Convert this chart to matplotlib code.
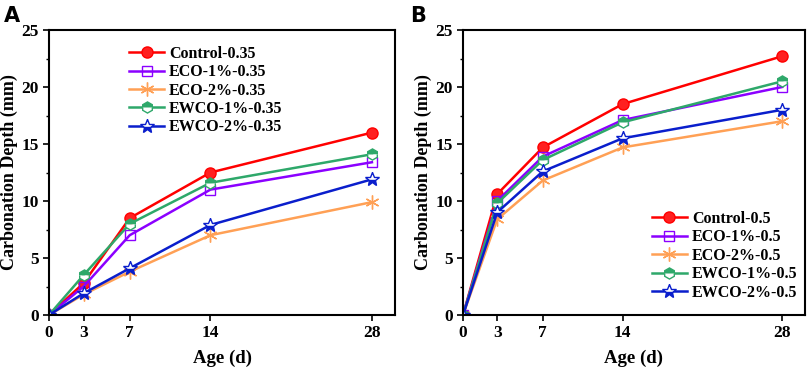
import matplotlib
matplotlib.use("Agg")
import matplotlib.pyplot as plt
from matplotlib.ticker import MultipleLocator

ages = [0, 3, 7, 14, 28]
labels_a = ["Control-0.35", "ECO-1%-0.35", "ECO-2%-0.35", "EWCO-1%-0.35", "EWCO-2%-0.35"]
labels_b = ["Control-0.5", "ECO-1%-0.5", "ECO-2%-0.5", "EWCO-1%-0.5", "EWCO-2%-0.5"]

control_a = [0, 2.8, 8.5, 12.5, 16.0]
eco1_a = [0, 2.5, 7.0, 11.0, 13.4]
eco2_a = [0, 1.8, 3.8, 7.0, 9.9]
ewco1_a = [0, 3.5, 8.0, 11.6, 14.1]
ewco2_a = [0, 1.9, 4.1, 7.9, 11.9]

control_b = [0, 10.6, 14.7, 18.5, 22.7]
eco1_b = [0, 10.0, 13.9, 17.1, 20.0]
eco2_b = [0, 8.4, 11.8, 14.7, 17.0]
ewco1_b = [0, 9.8, 13.6, 16.9, 20.5]
ewco2_b = [0, 9.0, 12.6, 15.5, 18.0]

colors = ["#ff0000", "#8b00ff", "#ffa055", "#2ea86a", "#0a1ecc"]
styles = [
    dict(marker="o", markersize=8, markerfacecolor="#ff2020", markeredgecolor="#ff0000"),
    dict(marker="s", markersize=7, markerfacecolor="none", markeredgewidth=1.0),
    dict(marker=(6, 2, 0), markersize=10, markeredgewidth=1.0),
    dict(marker="h", markersize=8, fillstyle="top", markerfacecoloralt="white", markeredgewidth=1.0),
    dict(marker="*", markersize=10, fillstyle="bottom", markerfacecoloralt="white", markeredgewidth=1.0),
]

serif = ["Liberation Serif", "DejaVu Serif"]
plt.rcParams["font.family"] = serif
plt.rcParams["font.weight"] = "bold"

fig = plt.figure(figsize=(8.09, 3.67), dpi=100)
ax1 = fig.add_axes([49/809, 52/367, 346/809, 285/367])
ax2 = fig.add_axes([463/809, 52/367, 342/809, 285/367])

def draw(ax, series, labels, legend_loc, bbox):
    for vals, lab, c, st in zip(series, labels, colors, styles):
        kw = dict(st)
        if "markeredgecolor" not in kw:
            kw["markeredgecolor"] = c
        ax.plot(ages, vals, color=c, lw=1.8, label=lab, **kw)
    ax.set_xlim(0, 30)
    ax.set_ylim(0, 25)
    ax.set_xticks(ages)
    ax.yaxis.set_major_locator(MultipleLocator(5))
    ax.yaxis.set_minor_locator(MultipleLocator(2.5))
    ax.tick_params(axis="both", which="major", direction="out", length=4, width=1.2, labelsize=12.5)
    ax.tick_params(axis="y", which="minor", direction="out", length=2.5, width=1.0)
    for t in ax.get_xticklabels() + ax.get_yticklabels():
        t.set_fontweight("bold")
    for s in ax.spines.values():
        s.set_linewidth(1.5)
    ax.set_xlabel("Age (d)", fontsize=13.5, fontweight="bold", labelpad=6)
    ax.set_ylabel("Carbonation Depth (mm)", fontsize=13, fontweight="bold", labelpad=2)
    ax.legend(loc=legend_loc, bbox_to_anchor=bbox, frameon=False,
              handlelength=2.2, handletextpad=0.3, labelspacing=0.15,
              prop=dict(family=serif, weight="bold", size=11.5))

draw(ax1, [control_a, eco1_a, eco2_a, ewco1_a, ewco2_a], labels_a, "upper left", (0.19, 0.995))
draw(ax2, [control_b, eco1_b, eco2_b, ewco1_b, ewco2_b], labels_b, "lower right", (1.02, 0.0))

fig.text(4/809, 1 - 16/367, "A", fontsize=15, fontweight="bold", family="DejaVu Sans", va="center")
fig.text(410/809, 1 - 16/367, "B", fontsize=15, fontweight="bold", family="DejaVu Sans", va="center")

fig.savefig("out.png", dpi=100)
